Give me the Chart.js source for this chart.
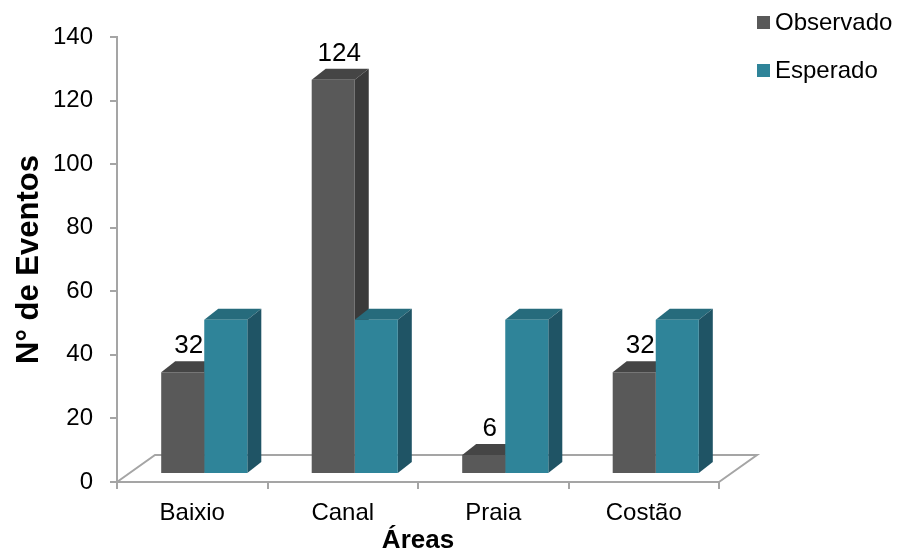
<!DOCTYPE html>
<html>
<head>
<meta charset="utf-8">
<script src="https://cdn.jsdelivr.net/npm/chart.js@4"></script>
<style>
body{margin:0;background:#fff}
#wrap{width:909px;height:551px;position:relative}
</style>
</head>
<body>
<div id="wrap"><canvas id="chart"></canvas></div>
<script>
const areas=["Baixio","Canal","Praia","Costão"]
const observado=[32,124,6,32]
const esperado=[48.5,48.5,48.5,48.5]
const seriesNames=["Observado","Esperado"]
const yTicks={min:0,max:140,step:20}

// colours: front, top, side
const shades=[
  ["#595959","#454545","#3a3a3a"],
  ["#2f8499","#266b7c","#1f5465"]
]
const gray="#a5a5a5"

// 3d look
const front={x:12,y:-8}
const depth={x:14,y:-11}
const floorDepth={x:38,y:-27}

Chart.defaults.font.family="'Liberation Sans', Arial, sans-serif"
Chart.defaults.font.size=24
Chart.defaults.color="#000"

function poly(ctx,pts,color){
  ctx.beginPath()
  ctx.moveTo(pts[0][0],pts[0][1])
  for(let i=1;i<pts.length;i++)ctx.lineTo(pts[i][0],pts[i][1])
  ctx.closePath()
  ctx.fillStyle=color
  ctx.fill()
}

const threeD={
  id:"threeD",
  beforeDatasetsDraw(chart){
    const ctx=chart.ctx
    const a=chart.chartArea
    // floor
    ctx.save()
    ctx.strokeStyle=gray
    ctx.lineWidth=2
    ctx.beginPath()
    ctx.moveTo(a.left,a.bottom)
    ctx.lineTo(a.left+floorDepth.x,a.bottom+floorDepth.y)
    ctx.lineTo(a.right+floorDepth.x,a.bottom+floorDepth.y)
    ctx.lineTo(a.right,a.bottom)
    ctx.stroke()
    ctx.restore()

    // top and side faces, left to right
    for(let i=0;i<areas.length;i++){
      chart.data.datasets.forEach((ds,d)=>{
        const bar=chart.getDatasetMeta(d).data[i]
        const L=bar.x-bar.width/2+front.x
        const R=bar.x+bar.width/2+front.x
        const T=bar.y+front.y
        const B=bar.base+front.y
        poly(ctx,[[L,T],[R,T],[R+depth.x,T+depth.y],[L+depth.x,T+depth.y]],shades[d][1])
        poly(ctx,[[R,T],[R+depth.x,T+depth.y],[R+depth.x,B+depth.y],[R,B]],shades[d][2])
      })
    }
    ctx.save()
    ctx.translate(front.x,front.y)
  },
  afterDatasetsDraw(chart){
    const ctx=chart.ctx
    ctx.restore()
    // labels on Observado
    ctx.save()
    ctx.font="26px 'Liberation Sans', Arial, sans-serif"
    ctx.fillStyle="#000"
    ctx.textAlign="center"
    ctx.textBaseline="middle"
    chart.getDatasetMeta(0).data.forEach((bar,i)=>{
      ctx.fillText(String(observado[i]),bar.x+front.x+6,bar.y+front.y-26)
    })
    ctx.restore()
  },
  afterDraw(chart){
    const ctx=chart.ctx
    ctx.save()
    ctx.font="24px 'Liberation Sans', Arial, sans-serif"
    ctx.textBaseline="middle"
    ctx.textAlign="left"
    chart.data.datasets.forEach((ds,d)=>{
      const cy=23+d*48
      ctx.fillStyle=ds.backgroundColor
      ctx.fillRect(757,cy-7,13,13)
      ctx.fillStyle="#000"
      ctx.fillText(ds.label,775,cy)
    })
    ctx.restore()
  }
}

new Chart(document.getElementById("chart"),{
  type:"bar",
  data:{
    labels:areas,
    datasets:[
      {label:seriesNames[0],data:observado,backgroundColor:shades[0][0],clip:false},
      {label:seriesNames[1],data:esperado,backgroundColor:shades[1][0],clip:false}
    ]
  },
  options:{
    responsive:true,
    maintainAspectRatio:false,
    animation:false,
    events:[],
    layout:{padding:{top:37,right:190,bottom:0,left:0}},
    datasets:{bar:{barPercentage:1,categoryPercentage:0.572}},
    plugins:{legend:{display:false},tooltip:{enabled:false}},
    scales:{
      x:{
        afterFit(s){s.height=69},
        grid:{drawOnChartArea:false,color:gray,lineWidth:2,tickLength:7,offset:true},
        border:{color:gray,width:2},
        ticks:{padding:10,maxRotation:0,font:{size:24}},
        title:{display:true,text:"Áreas",font:{size:26,weight:"bold",lineHeight:0.8},padding:0}
      },
      y:{
        min:yTicks.min,max:yTicks.max,
        afterFit(s){s.width=117},
        grid:{drawOnChartArea:false,color:gray,lineWidth:2,tickLength:7},
        border:{color:gray,width:2},
        ticks:{stepSize:yTicks.step,padding:17,font:{size:24}},
        title:{display:true,text:"N° de Eventos",font:{size:31,weight:"bold",lineHeight:1.2},padding:{top:11,bottom:0}}
      }
    }
  },
  plugins:[threeD]
})
</script>
</body>
</html>
